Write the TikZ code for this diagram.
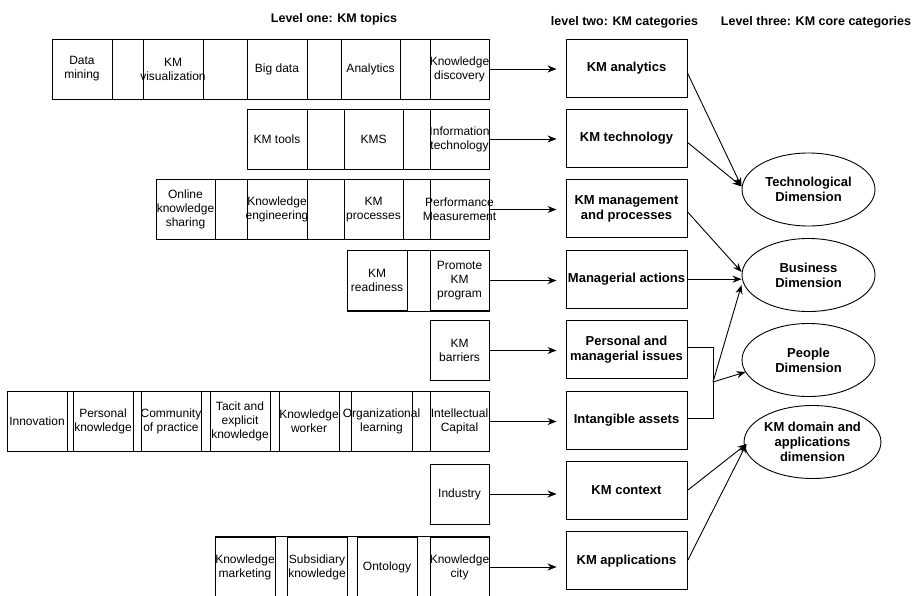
\documentclass[tikz,border=0pt]{standalone}
\usepackage{fontspec}
\setmainfont{Liberation Sans}
\usetikzlibrary{shapes.geometric,arrows.meta,calc}
\newcommand\kmcell[4]{\node[cellbox,minimum width=#3] (#1) at (#2) {};\node[celltext] (#1t) at (#1.center) {#4};}
\begin{document}
\begin{tikzpicture}[x=1pt,y=-1pt,
  line width=0.9pt,
  rowbox/.style={draw, rectangle, inner sep=0pt, minimum height=60pt},
  cellbox/.style={draw, rectangle, inner sep=0pt, minimum height=60pt},
  celltext/.style={align=center, inner sep=0pt, font=\fontsize{12}{14}\selectfont},
  catbox/.style={draw, rectangle, minimum width=121pt, minimum height=58pt, inner sep=0pt, align=center, font=\fontsize{13}{15}\selectfont\bfseries},
  dimnode/.style={draw, ellipse, minimum width=133pt, minimum height=73pt, inner sep=0pt, align=center, font=\fontsize{13}{15}\selectfont\bfseries},
  heading/.style={font=\fontsize{12.5}{15}\selectfont\bfseries, inner sep=0pt},
  arr/.style={-{Stealth[length=9pt,width=7pt]}}
]
\useasboundingbox[fill=white] (0,0) rectangle (917,596);

% headings
\node[heading] (h1) at (334,19) {Level one: KM topics};
\node[heading] (h2) at (624.5,22) {level two: KM categories};
\node[heading] (h3) at (816,22) {Level three: KM core categories};

% row 1
\node[rowbox, minimum width=437pt] (r1) at (270.5,69) {};
\kmcell{dm}{82,69}{60pt}{Data\\mining}
\kmcell{kv}{173,69}{60pt}{KM\\visualization}
\kmcell{bd}{277,69}{60pt}{Big data}
\kmcell{an}{370.5,69}{59pt}{Analytics}
\kmcell{kd}{459.5,69}{59pt}{Knowledge\\discovery}

% row 2
\node[rowbox, minimum width=242pt] (r2) at (368,139) {};
\kmcell{kt}{277,139}{60pt}{KM tools}
\kmcell{kms}{373.5,139}{59pt}{KMS}
\kmcell{it}{459.5,139}{59pt}{Information\\technology}

% row 3
\node[rowbox, minimum width=333pt] (r3) at (322.5,209.5) {};
\kmcell{oks}{185.5,209.5}{59pt}{Online\\knowledge\\sharing}
\kmcell{ke}{277,209.5}{60pt}{Knowledge\\engineering}
\kmcell{kp}{373.5,209.5}{59pt}{KM\\processes}
\kmcell{pm}{459.5,209.5}{59pt}{Performance\\Measurement}

% row 4
\node[rowbox, minimum width=142pt, minimum height=61pt] (r4) at (418,280.5) {};
\kmcell{kr}{377,280.5}{60pt}{KM\\readiness}
\kmcell{pk}{459.5,280.5}{59pt}{Promote\\KM\\program}

% row 5
\kmcell{kb}{459.5,350.5}{59pt}{KM\\barriers}

% row 6
\node[rowbox, minimum width=482pt] (r6) at (248,421.5) {};
\kmcell{inn}{37,421.5}{60pt}{Innovation}
\kmcell{pek}{103,421.5}{60pt}{Personal\\knowledge}
\kmcell{cop}{171,421.5}{60pt}{Community\\of practice}
\kmcell{tek}{240,421.5}{60pt}{Tacit and\\explicit\\knowledge}
\kmcell{kw}{309,421.5}{60pt}{Knowledge\\worker}
\kmcell{ol}{381.5,421.5}{61pt}{Organizational\\learning}
\kmcell{ic}{459.5,421.5}{59pt}{Intellectual\\Capital}

% row 7
\kmcell{ind}{459.5,494}{59pt}{Industry}

% row 8
\node[rowbox, minimum width=274pt, minimum height=62pt] (r8) at (352,567) {};
\kmcell{km}{245,567}{60pt}{Knowledge\\marketing}
\kmcell{sk}{317,567}{60pt}{Subsidiary\\knowledge}
\kmcell{ont}{387,567}{60pt}{Ontology}
\kmcell{kc}{459.5,567}{59pt}{Knowledge\\city}

% level two
\node[catbox] (ana) at (626.5,68) {KM analytics};
\node[catbox] (tec) at (626.5,138.4) {KM technology};
\node[catbox] (mgm) at (626.5,208.8) {KM management\\and processes};
\node[catbox] (man) at (626.5,279.2) {Managerial actions};
\node[catbox] (per) at (626.5,349.6) {Personal and\\managerial issues};
\node[catbox] (int) at (626.5,420) {Intangible assets};
\node[catbox] (ctx) at (626.5,490.4) {KM context};
\node[catbox] (app) at (626.5,560.8) {KM applications};

% level three
\node[dimnode] (tdim) at (808.5,189.5) {Technological\\Dimension};
\node[dimnode] (bdim) at (808.5,275) {Business\\Dimension};
\node[dimnode] (pdim) at (808.5,360) {People\\Dimension};
\node[dimnode] (ddim) at (812.5,442) {KM domain and\\applications\\dimension};

% level one -> level two
\draw[arr, shorten >=9pt] (kd.east) -- (kd.east -| ana.west);
\draw[arr, shorten >=9pt] (it.east) -- (it.east -| tec.west);
\draw[arr, shorten >=9pt] (pm.east) -- (pm.east -| mgm.west);
\draw[arr, shorten >=9pt] (pk.east) -- (pk.east -| man.west);
\draw[arr, shorten >=9pt] (kb.east) -- (kb.east -| per.west);
\draw[arr, shorten >=9pt] (ic.east) -- (ic.east -| int.west);
\draw[arr, shorten >=9pt] (ind.east) -- (ind.east -| ctx.west);
\draw[arr, shorten >=9pt] (kc.east) -- (kc.east -| app.west);

% level two -> level three
\draw[arr] ([yshift=-5pt]ana.east) -- ([yshift=3pt]tdim.west);
\draw[arr] ([yshift=-4pt]tec.east) -- ([yshift=3pt]tdim.west);
\draw[arr] ([yshift=-3pt]mgm.east) -- ([yshift=3pt]bdim.west);
\draw[arr] (man.east) -- (man.east -| bdim.west);
\coordinate (jn) at (713,382);
\draw ([yshift=2pt]per.east) -- ([yshift=2pt]per.east -| jn) -- ([yshift=2pt]int.east -| jn) -- ([yshift=2pt]int.east);
\draw[arr] (jn) -- ($(bdim.center)+(-67,10)$);
\draw[arr] (jn) -- ($(pdim.center)+(-63,12)$);
\draw[arr] (ctx.east) -- ($(ddim.center)+(-66,2)$);
\draw[arr] (app.east) -- ($(ddim.center)+(-66,2)$);
\end{tikzpicture}
\end{document}
